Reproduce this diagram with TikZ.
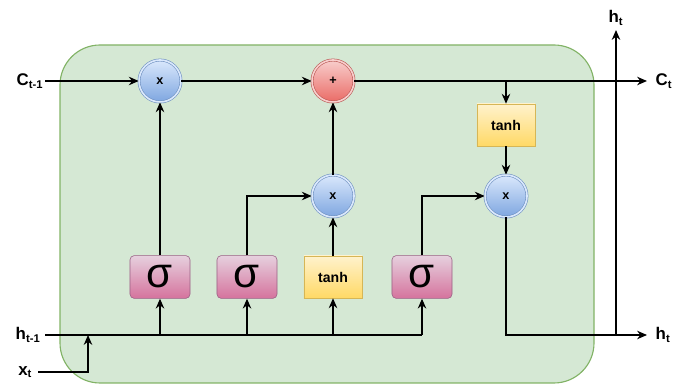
\documentclass[tikz,border=0pt]{standalone}
\usepackage{fontspec}
\setmainfont{Liberation Sans}
\usetikzlibrary{arrows.meta, positioning}
\definecolor{cellfill}{HTML}{D5E8D4}
\definecolor{celldraw}{HTML}{82B366}
\definecolor{optop}{HTML}{DAE8FC}
\definecolor{opbot}{HTML}{7EA6E0}
\definecolor{opdraw}{HTML}{6C8EBF}
\definecolor{addtop}{HTML}{F8CECC}
\definecolor{addbot}{HTML}{EA6B66}
\definecolor{adddraw}{HTML}{B85450}
\definecolor{acttop}{HTML}{FFF2CC}
\definecolor{actbot}{HTML}{FFD966}
\definecolor{actdraw}{HTML}{D6B656}
\definecolor{gatetop}{HTML}{E6D0DE}
\definecolor{gatebot}{HTML}{D5739D}
\definecolor{gatedraw}{HTML}{996185}
\begin{document}
\begin{tikzpicture}[
    x=0.025cm, y=-0.025cm,
    op/.style={circle, draw=opdraw, double=optop, double distance=1.2pt, top color=optop, bottom color=opbot, minimum size=1.05cm, inner sep=0pt, font=\small\bfseries},
    opadd/.style={op, draw=adddraw, double=addtop, top color=addtop, bottom color=addbot},
    gate/.style={rectangle, rounded corners=3pt, draw=gatedraw, top color=gatetop, bottom color=gatebot, minimum width=1.5cm, minimum height=1.07cm, inner sep=0pt, font=\fontsize{30}{30}\selectfont},
    act/.style={rectangle, draw=actdraw, top color=acttop, bottom color=actbot, minimum width=1.45cm, minimum height=1.05cm, inner sep=0pt, font=\normalsize\bfseries},
    lbl/.style={font=\large\bfseries, inner sep=1pt},
    arr/.style={-{Stealth[length=7pt,width=6pt]}, line width=1.2pt},
    line/.style={line width=1.2pt}
]
\useasboundingbox (0,0) rectangle (678,385);
\draw[celldraw, fill=cellfill, line width=0.8pt, rounded corners=1cm] (60,45) rectangle (594,383);
\node[op] (m1) at (160,81) {x};
\node[opadd] (add) at (333,81) {+};
\node[op] (m2) at (333,196) {x};
\node[op] (m3) at (506,196) {x};
\node[act] (th1) at (506,125) {tanh};
\node[gate] (g1) at (160,277) {σ};
\node[gate] (g2) at (247,277) {σ};
\node[act] (th2) at (333,277) {tanh};
\node[gate] (g3) at (422,277) {σ};
\coordinate (cin) at (45,81);
\coordinate (cout) at (647,81);
\coordinate (hin) at (45,335);
\coordinate (xin) at (38,372);
\coordinate (xjoin) at (88,335);
\coordinate (hout) at (647,335);
\coordinate (hup) at (616,30);
\node[lbl, left=0pt of cin] (cinl) {C\textsubscript{t-1}};
\node[lbl, left=2pt of hin] (hinl) {h\textsubscript{t-1}};
\node[lbl, left=3pt of xin] (xinl) {x\textsubscript{t}};
\node[lbl, right=5pt of cout] (coutl) {C\textsubscript{t}};
\node[lbl, right=5pt of hout] (houtl) {h\textsubscript{t}};
\node[lbl, above=2pt of hup] (hupl) {h\textsubscript{t}};
\draw[arr] (cin) -- (m1);
\draw[arr] (m1) -- (add);
\draw[arr] (add) -- (cout);
\draw[arr] (th1 |- add) -- (th1);
\draw[arr] (th1) -- (m3);
\draw[arr] (g1) -- (m1);
\draw[arr] (g2) |- (m2);
\draw[arr] (th2) -- (m2);
\draw[arr] (m2) -- (add);
\draw[arr] (g3) |- (m3);
\draw[arr] (m3) |- (hout);
\draw[arr] (hup |- hout) -- (hup);
\draw[line] (hin) -- (g3 |- hin);
\draw[arr] (xin) -| (xjoin);
\foreach \g in {g1,g2,th2,g3}
    \draw[arr] (\g |- hin) -- (\g);
\end{tikzpicture}
\end{document}
